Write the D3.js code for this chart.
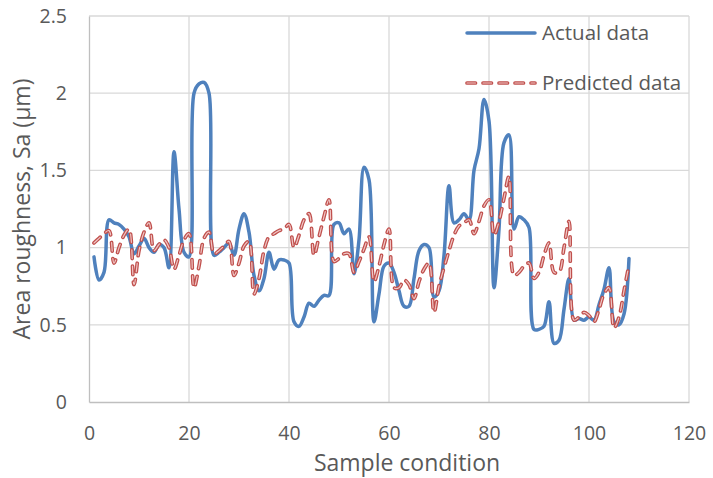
<!DOCTYPE html>
<html>
<head>
<meta charset="utf-8">
<script src="https://cdn.jsdelivr.net/npm/d3@7"></script>
<style>
  html, body { margin: 0; padding: 0; background: #ffffff; }
  svg { display: block; }
  text { font-family: "Open Sans", "Liberation Sans", sans-serif; fill: #595959; }
</style>
</head>
<body>
<svg id="chart" width="713" height="478"></svg>
<script>
// Sample conditions 1..108
const sampleIds = d3.range(1, 109);

// Measured area roughness Sa (µm)
const actualData = [
  0.94, 0.79, 0.84, 1.18, 1.16, 1.15, 1.12, 1.07, 0.96, 1.01,
  1.06, 1.00, 0.97, 1.02, 1.00, 0.87, 1.62, 1.25, 0.97, 0.94,
  2.00, 2.06, 2.07, 2.00, 0.95, 0.97, 1.00, 1.03, 0.95, 1.12,
  1.22, 1.10, 0.82, 0.72, 0.80, 0.97, 0.86, 0.92, 0.92, 0.90,
  0.52, 0.49, 0.55, 0.64, 0.62, 0.66, 0.69, 0.69, 1.15, 1.16,
  1.09, 1.12, 0.83, 1.05, 1.52, 1.44, 0.52, 0.70, 0.88, 0.90,
  0.84, 0.72, 0.62, 0.62, 0.80, 0.98, 1.02, 1.00, 0.68, 0.72,
  0.95, 1.40, 1.16, 1.18, 1.22, 1.18, 1.50, 1.64, 1.96, 1.82,
  0.74, 1.12, 1.68, 1.73, 1.12, 1.20, 1.18, 1.13, 0.47, 0.47,
  0.49, 0.65, 0.38, 0.40, 0.60, 0.80, 0.53, 0.54, 0.53, 0.55,
  0.53, 0.63, 0.73, 0.87, 0.52, 0.50, 0.57, 0.93
];

// Model prediction of Sa (µm)
const predictedData = [
  1.03, 1.06, 1.09, 1.11, 0.90, 1.00, 1.08, 1.12, 0.76, 0.98,
  1.10, 1.16, 0.98, 1.02, 1.05, 1.00, 0.86, 0.95, 1.05, 1.09,
  0.74, 0.88, 1.06, 1.10, 0.96, 0.98, 1.01, 1.04, 0.82, 0.90,
  1.01, 1.04, 0.70, 0.80, 0.98, 1.07, 1.09, 1.11, 1.12, 1.15,
  1.00, 1.08, 1.18, 1.22, 0.95, 1.07, 1.20, 1.31, 0.91, 0.93,
  0.96, 0.96, 0.84, 0.91, 0.99, 1.07, 0.78, 0.88, 1.02, 1.12,
  0.74, 0.74, 0.79, 0.76, 0.67, 0.78, 0.86, 0.90, 0.58, 0.75,
  0.87, 0.98, 1.08, 1.14, 1.16, 1.18, 1.09, 1.17, 1.27, 1.31,
  1.08, 1.17, 1.32, 1.46, 0.82, 0.84, 0.88, 0.90, 0.80, 0.84,
  0.95, 1.03, 0.84, 0.84, 1.00, 1.17, 0.53, 0.55, 0.58, 0.56,
  0.52, 0.60, 0.70, 0.74, 0.48, 0.55, 0.72, 0.89
];

const xTicks = [0, 20, 40, 60, 80, 100, 120];
const yTicks = [0, 0.5, 1, 1.5, 2, 2.5];
const seriesNames = ["Actual data", "Predicted data"];

const svg = d3.select("#chart");
const margin = { left: 89, right: 24, top: 16, bottom: 76 };
const W = 713, H = 478;

const x = d3.scaleLinear().domain([0, 120]).range([margin.left, W - margin.right]);
const y = d3.scaleLinear().domain([0, 2.5]).range([H - margin.bottom, margin.top]);

// gridlines
const grid = svg.append("g");
grid.selectAll("line.h").data(yTicks.slice(1)).join("line")
  .attr("x1", x(0)).attr("x2", x(120))
  .attr("y1", d => y(d)).attr("y2", d => y(d))
  .attr("stroke", "#d9d9d9").attr("stroke-width", 1.3);
grid.selectAll("line.v").data(xTicks.slice(1)).join("line")
  .attr("y1", y(0)).attr("y2", y(2.5))
  .attr("x1", d => x(d)).attr("x2", d => x(d))
  .attr("stroke", "#d9d9d9").attr("stroke-width", 1.3);

// axes
const xAxis = d3.axisBottom(x).tickValues(xTicks).tickSize(0).tickPadding(24).tickFormat(d3.format("d"));
const yAxis = d3.axisLeft(y).tickValues(yTicks).tickSize(0).tickPadding(22).tickFormat(d => d3.format("")(d));

const gx = svg.append("g").attr("transform", `translate(0,${y(0)})`).call(xAxis);
const gy = svg.append("g").attr("transform", `translate(${x(0)},0)`).call(yAxis);
[gx, gy].forEach(g => {
  g.select(".domain").attr("stroke", "#bfbfbf").attr("stroke-width", 1.3);
  g.selectAll("text").style("font-size", "19.5px").attr("fill", "#595959");
});

// series
const line = d3.line()
  .x((d, i) => x(sampleIds[i]))
  .y(d => y(d))
  .curve(d3.curveCatmullRom.alpha(0.5));

svg.append("path").datum(actualData)
  .attr("d", line)
  .attr("fill", "none").attr("stroke", "#4F81BD")
  .attr("stroke-width", 3.5).attr("stroke-linejoin", "round").attr("stroke-linecap", "round");

// dashed prediction line: red outline with a pale core
const dash = "8.5,7.5";
svg.append("path").datum(predictedData)
  .attr("d", line)
  .attr("fill", "none").attr("stroke", "#C0504D")
  .attr("stroke-width", 3.7).attr("stroke-dasharray", dash).attr("stroke-linecap", "round");
svg.append("path").datum(predictedData)
  .attr("d", line)
  .attr("fill", "none").attr("stroke", "#F0C6C5")
  .attr("stroke-width", 1.2).attr("stroke-dasharray", dash).attr("stroke-linecap", "round");

// legend
const legend = svg.append("g");
legend.append("line").attr("x1", 467).attr("x2", 535).attr("y1", 33).attr("y2", 33)
  .attr("stroke", "#4F81BD").attr("stroke-width", 3.5).attr("stroke-linecap", "round");
legend.append("line").attr("x1", 467).attr("x2", 535).attr("y1", 83).attr("y2", 83)
  .attr("stroke", "#C0504D").attr("stroke-width", 3.7).attr("stroke-dasharray", dash).attr("stroke-linecap", "round");
legend.append("line").attr("x1", 467).attr("x2", 535).attr("y1", 83).attr("y2", 83)
  .attr("stroke", "#F0C6C5").attr("stroke-width", 1.2).attr("stroke-dasharray", dash).attr("stroke-linecap", "round");
legend.selectAll("text.lg").data(seriesNames).join("text")
  .attr("x", 542).attr("y", (d, i) => 33 + i * 50)
  .attr("dy", "0.35em")
  .style("font-size", "20.5px")
  .text(d => d);

// axis titles
svg.append("text").attr("x", 407).attr("y", 471)
  .attr("text-anchor", "middle").style("font-size", "23px")
  .text("Sample condition");
svg.append("text").attr("transform", `translate(30,${y(1.25)}) rotate(-90)`)
  .attr("text-anchor", "middle").style("font-size", "23px")
  .text("Area roughness, Sa (µm)");
</script>
</body>
</html>
